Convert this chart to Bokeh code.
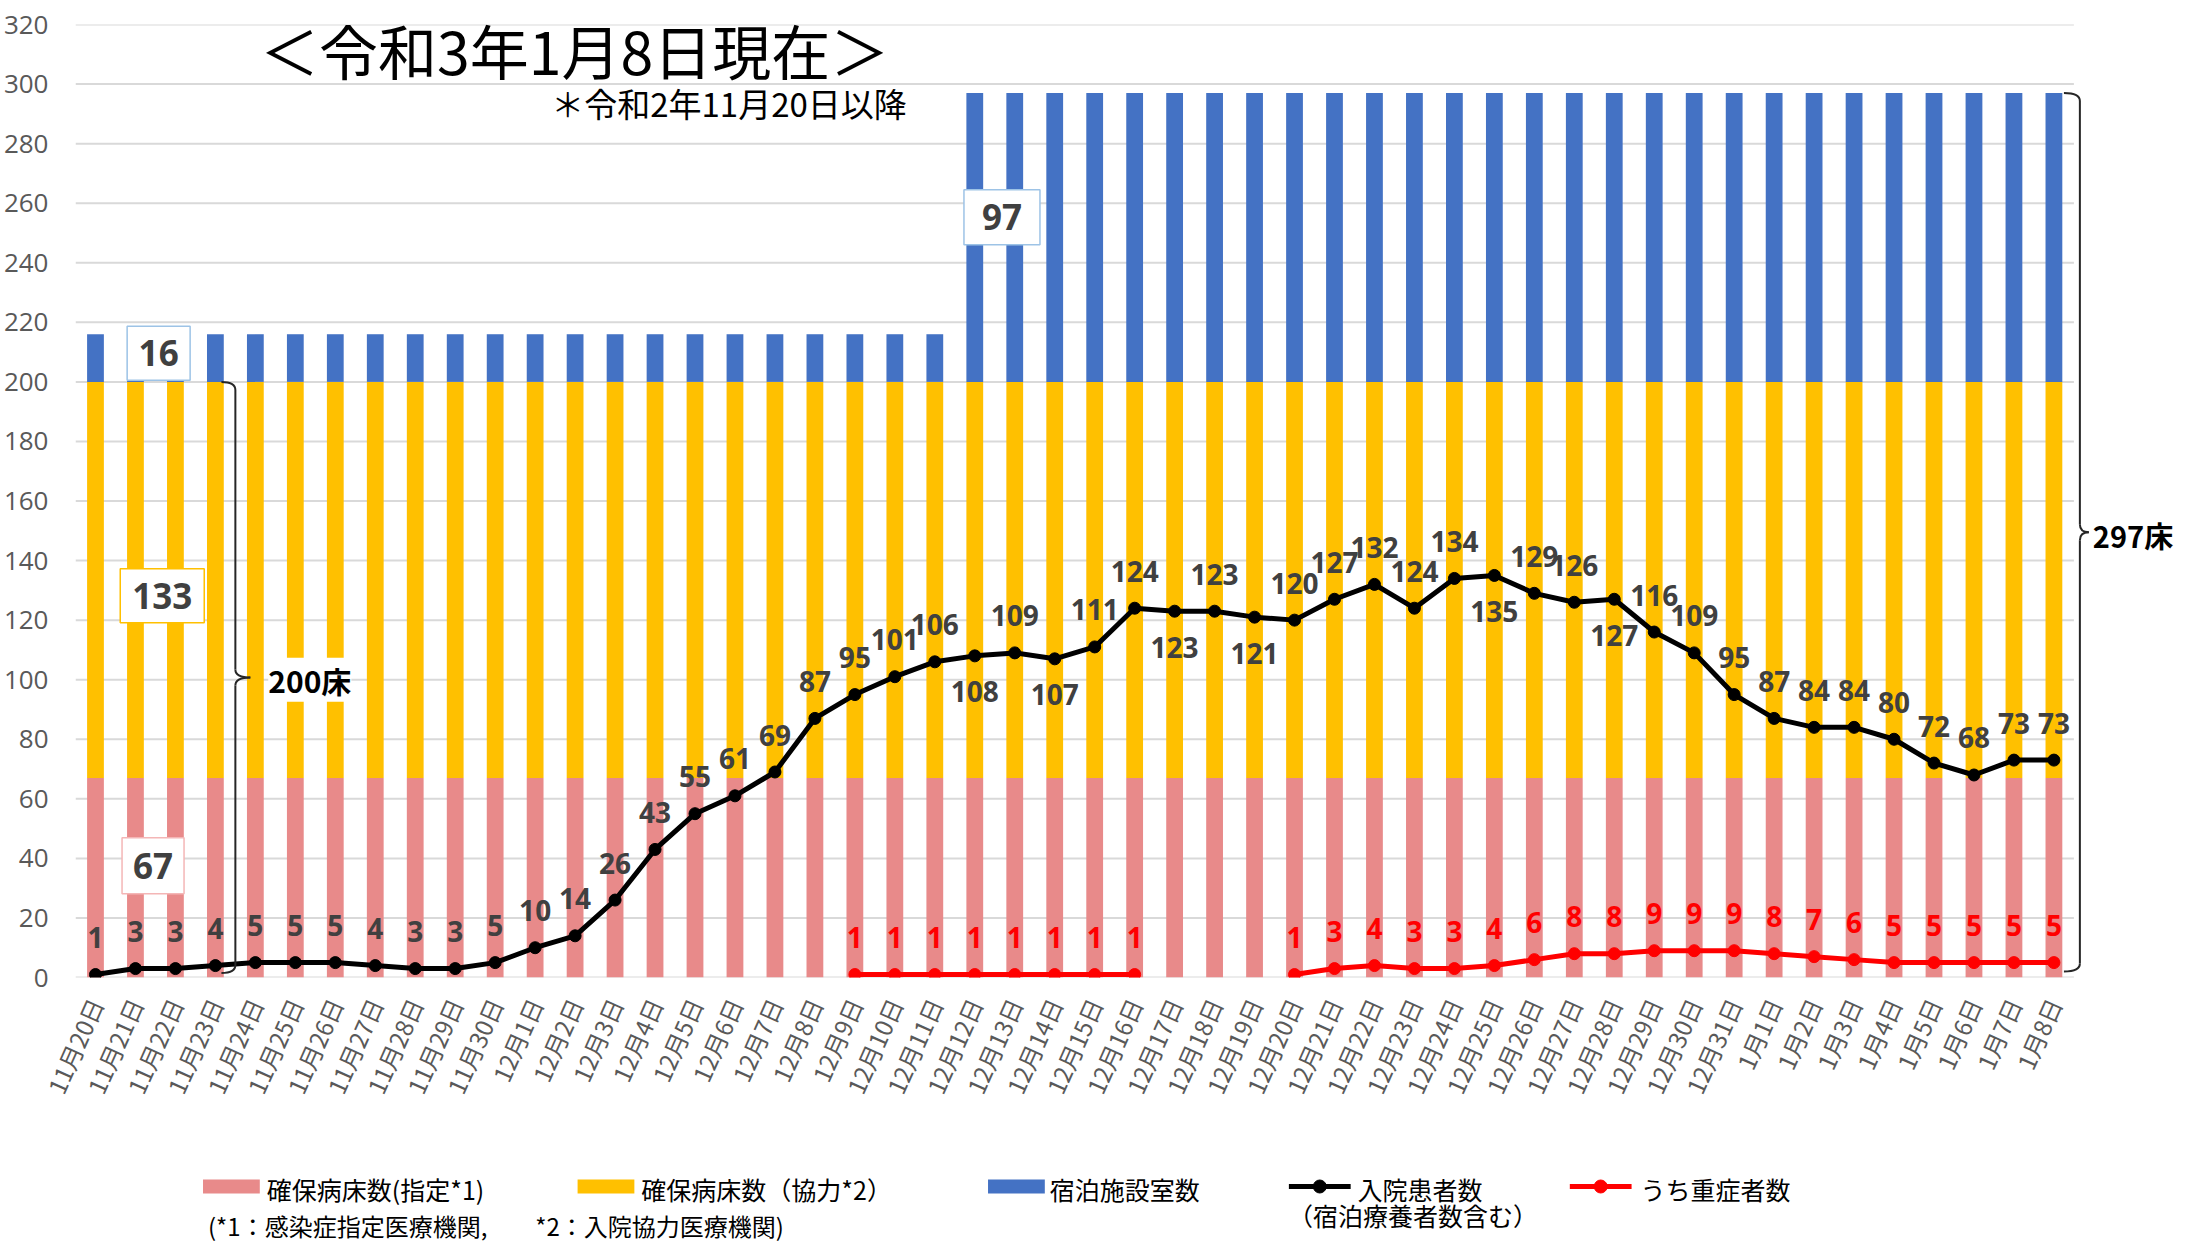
import math
from bokeh.plotting import figure
from bokeh.models import ColumnDataSource, Range1d, FixedTicker, Label
from bokeh.layouts import column
from bokeh.core.properties import value
from bokeh.embed import file_html
from bokeh.resources import INLINE

NAN = float("nan")

# ---------------- data ----------------
DATES = [
    "11月20日", "11月21日", "11月22日", "11月23日", "11月24日", "11月25日",
    "11月26日", "11月27日", "11月28日", "11月29日", "11月30日",
    "12月1日", "12月2日", "12月3日", "12月4日", "12月5日", "12月6日",
    "12月7日", "12月8日", "12月9日", "12月10日", "12月11日", "12月12日",
    "12月13日", "12月14日", "12月15日", "12月16日", "12月17日", "12月18日",
    "12月19日", "12月20日", "12月21日", "12月22日", "12月23日", "12月24日",
    "12月25日", "12月26日", "12月27日", "12月28日", "12月29日", "12月30日",
    "12月31日",
    "1月1日", "1月2日", "1月3日", "1月4日", "1月5日", "1月6日", "1月7日", "1月8日",
]
DESIGNATED_BEDS = [67] * 50          # 確保病床数(指定*1)
COOPERATING_BEDS = [133] * 50        # 確保病床数（協力*2）
HOTEL_ROOMS = [16] * 22 + [97] * 28  # 宿泊施設室数
INPATIENTS = [
    1, 3, 3, 4, 5, 5, 5, 4, 3, 3, 5,
    10, 14, 26, 43, 55, 61, 69, 87, 95, 101, 106, 108, 109, 107, 111, 124,
    123, 123, 121, 120, 127, 132, 124, 134, 135, 129, 126, 127, 116, 109, 95,
    87, 84, 84, 80, 72, 68, 73, 73,
]
SEVERE = (
    [NAN] * 19
    + [1, 1, 1, 1, 1, 1, 1, 1]
    + [NAN, NAN, NAN]
    + [1, 3, 4, 3, 3, 4, 6, 8, 8, 9, 9, 9, 8, 7, 6, 5, 5, 5, 5, 5]
)
Y_TICKS = [0, 20, 40, 60, 80, 100, 120, 140, 160, 180, 200, 220, 240, 260, 280, 300, 320]
BELOW_LABEL_DATES = ["12月12日", "12月14日", "12月17日", "12月19日", "12月25日", "12月28日"]

LEGEND_LABELS = ["確保病床数(指定*1)", "確保病床数（協力*2）", "宿泊施設室数", "入院患者数", "うち重症者数"]
LEGEND_SUBLABEL = "（宿泊療養者数含む）"
TITLE = "＜令和3年1月8日現在＞"
SUBTITLE = "＊令和2年11月20日以降"
FOOTNOTE = "(*1：感染症指定医療機関,　　*2：入院協力医療機関)"

# ---------------- style / layout ----------------
PINK = "#E88A8A"
YELLOW = "#FFC000"
BLUE = "#4472C4"
RED = "#FF0000"
GRID = "#D9D9D9"
LABEL_GRAY = "#404040"
AXIS_GRAY = "#595959"
JP = "Noto Sans CJK JP"

FIG_W = 2178
MAIN_H = 1140
LEG_H = 107
FRAME_LEFT = 67
FRAME_TOP = 24
FRAME_BOTTOM = 977
PX_X = 40.12                       # px per category
PX_Y = (FRAME_BOTTOM - FRAME_TOP) / 320.0
X_END = -0.5 + (FIG_W - FRAME_LEFT) / PX_X

n = len(DATES)
xs = list(range(n))

p = figure(width=FIG_W, height=MAIN_H, title=None,
           x_range=Range1d(-0.5, X_END), y_range=Range1d(0, 320),
           output_backend="svg", toolbar_location=None,
           min_border_left=FRAME_LEFT, min_border_right=0,
           min_border_top=FRAME_TOP, min_border_bottom=MAIN_H - FRAME_BOTTOM)
p.outline_line_color = None
p.grid.visible = False
p.background_fill_color = "white"

# gridlines (only across the bar area)
p.segment(x0=[-0.5] * len(Y_TICKS), x1=[n - 0.5] * len(Y_TICKS), y0=Y_TICKS, y1=Y_TICKS,
          line_color=GRID, line_width=2)

# stacked bars
bars = ColumnDataSource(dict(x=xs, designated=DESIGNATED_BEDS,
                             cooperating=COOPERATING_BEDS, hotel=HOTEL_ROOMS))
p.vbar_stack(["designated", "cooperating", "hotel"], x="x", width=0.42,
             color=[PINK, YELLOW, BLUE], line_width=0, source=bars)

# inpatients line
p.line(xs, INPATIENTS, line_color="black", line_width=5)
p.scatter(xs, INPATIENTS, size=12, color="black")
in_off = [36 if d in BELOW_LABEL_DATES else -37 for d in DATES]
p.text(x=xs, y=INPATIENTS, text=[str(v) for v in INPATIENTS], y_offset=in_off,
       text_align="center", text_baseline="middle", text_font=value("Open Sans"),
       text_font_style="bold", text_font_size="28px", text_color=LABEL_GRAY)

# severe line
p.line(xs, SEVERE, line_color=RED, line_width=5)
p.scatter(xs, SEVERE, size=12, color=RED)
sev_x = [x for x, v in zip(xs, SEVERE) if not math.isnan(v)]
sev_v = [v for v in SEVERE if not math.isnan(v)]
p.text(x=sev_x, y=sev_v, text=[str(int(v)) for v in sev_v], y_offset=-37,
       text_align="center", text_baseline="middle", text_font=value("Open Sans"),
       text_font_style="bold", text_font_size="28px", text_color=RED)

# boxed value call-outs
base200 = DESIGNATED_BEDS[0] + COOPERATING_BEDS[0]
box_x = [1.58, 1.67, 1.44, 22.68]
box_y = [base200 + HOTEL_ROOMS[0] * 0.6,
         DESIGNATED_BEDS[0] + COOPERATING_BEDS[0] * 0.46,
         DESIGNATED_BEDS[0] * 0.56,
         base200 + HOTEL_ROOMS[-1] * 0.57]
box_txt = [str(HOTEL_ROOMS[0]), str(COOPERATING_BEDS[0]), str(DESIGNATED_BEDS[0]), str(HOTEL_ROOMS[-1])]
box_w = [63, 84, 62, 76]
box_h = [54, 54, 56, 55]
box_line = ["#9DC3E6", "#FFC000", "#F4B6B6", "#9DC3E6"]
p.rect(x=box_x, y=box_y, width=box_w, height=box_h, width_units="screen",
       height_units="screen", fill_color="white", line_color=box_line, line_width=1.5)
p.text(x=box_x, y=box_y, text=box_txt, text_align="center", text_baseline="middle",
       text_font=value("Open Sans"), text_font_style="bold", text_font_size="35px",
       text_color=LABEL_GRAY)


def draw_brace(fig, x_hook, x_line, x_tip, y_top, y_bot, ry):
    y_mid = (y_top + y_bot) / 2.0
    kw = dict(line_color="#262626", line_width=2)
    fig.quadratic(x0=[x_hook], y0=[y_top], x1=[x_line], y1=[y_top - ry], cx=[x_line], cy=[y_top], **kw)
    fig.segment(x0=[x_line], y0=[y_top - ry], x1=[x_line], y1=[y_mid + ry], **kw)
    fig.quadratic(x0=[x_line], y0=[y_mid + ry], x1=[x_tip], y1=[y_mid], cx=[x_line], cy=[y_mid], **kw)
    fig.quadratic(x0=[x_tip], y0=[y_mid], x1=[x_line], y1=[y_mid - ry], cx=[x_line], cy=[y_mid], **kw)
    fig.segment(x0=[x_line], y0=[y_mid - ry], x1=[x_line], y1=[y_bot + ry], **kw)
    fig.quadratic(x0=[x_line], y0=[y_bot + ry], x1=[x_hook], y1=[y_bot], cx=[x_line], cy=[y_bot], **kw)


ry = 8 / PX_Y
draw_brace(p, 3.5 - 14 / PX_X, 3.5, 3.5 + 15 / PX_X, base200, 1.5, ry)
total297 = base200 + HOTEL_ROOMS[-1]
x297 = n - 0.5 + 6 / PX_X
draw_brace(p, x297 - 16 / PX_X, x297, x297 + 9 / PX_X, total297, 2, ry)

p.add_layout(Label(x=3.5 + 33 / PX_X, y=base200 / 2.0, text=f"{base200}床",
                   text_font=JP, text_font_style="bold", text_font_size="30px",
                   text_color="black", text_align="left", text_baseline="middle",
                   background_fill_color="white"))
p.add_layout(Label(x=x297 + 13 / PX_X, y=total297 / 2.0, text=f"{total297}床",
                   text_font=JP, text_font_style="bold", text_font_size="29px",
                   text_color="black", text_align="left", text_baseline="middle"))

# title & subtitle
p.add_layout(Label(x=11.99, y=311.5, text=TITLE, text_font=JP, text_font_size="59px",
                   text_color="black", text_align="center", text_baseline="middle"))
p.add_layout(Label(x=15.85, y=293.5, text=SUBTITLE, text_font=JP, text_font_size="33px",
                   text_color="black", text_align="center", text_baseline="middle"))

# axes
p.yaxis.ticker = FixedTicker(ticks=Y_TICKS)
p.yaxis.axis_line_color = None
p.yaxis.major_tick_line_color = None
p.yaxis.minor_tick_line_color = None
p.yaxis.major_label_text_font = "Open Sans"
p.yaxis.major_label_text_font_size = "26px"
p.yaxis.major_label_text_color = AXIS_GRAY
p.yaxis.major_label_standoff = 21

p.xaxis.ticker = FixedTicker(ticks=xs)
p.xaxis.major_label_overrides = {i: d for i, d in enumerate(DATES)}
p.xaxis.axis_line_color = None
p.xaxis.major_tick_line_color = None
p.xaxis.minor_tick_line_color = None
p.xaxis.major_label_orientation = math.radians(66)
p.xaxis.major_label_text_font = JP
p.xaxis.major_label_text_font_size = "24px"
p.xaxis.major_label_text_color = AXIS_GRAY
p.xaxis.major_label_standoff = 16

# ---------------- legend strip ----------------
leg = figure(width=FIG_W, height=LEG_H, title=None,
             x_range=Range1d(FRAME_LEFT, FIG_W), y_range=Range1d(LEG_H, 0),
             output_backend="svg", toolbar_location=None,
             x_axis_location=None, y_axis_location=None,
             min_border_left=FRAME_LEFT, min_border_right=0,
             min_border_top=0, min_border_bottom=0)
leg.outline_line_color = None
leg.grid.visible = False

LEG_X = [195, 571, 983, 1285, 1567]
SW_W = 57
ROW_Y = 46
for i, c in enumerate([PINK, YELLOW, BLUE]):
    leg.quad(left=[LEG_X[i]], right=[LEG_X[i] + SW_W], top=[ROW_Y - 7], bottom=[ROW_Y + 7],
             fill_color=c, line_color=None)
for i, c in [(3, "black"), (4, RED)]:
    leg.segment(x0=[LEG_X[i]], x1=[LEG_X[i] + 62], y0=[ROW_Y], y1=[ROW_Y], line_color=c, line_width=5)
    leg.scatter(x=[LEG_X[i] + 31], y=[ROW_Y], size=13, color=c)
text_x = [LEG_X[0] + 64, LEG_X[1] + 64, LEG_X[2] + 62, LEG_X[3] + 69, LEG_X[4] + 71]
leg.text(x=text_x, y=[ROW_Y + 2] * 5, text=LEGEND_LABELS, text_align="left",
         text_baseline="middle", text_font=value(JP), text_font_size="25px", text_color="black")
leg.text(x=[LEG_X[3] - 1], y=[ROW_Y + 28], text=[LEGEND_SUBLABEL], text_align="left",
         text_baseline="middle", text_font=value(JP), text_font_size="25px", text_color="black")
leg.text(x=[200], y=[85], text=[FOOTNOTE], text_align="left", text_baseline="middle",
         text_font=value(JP), text_font_size="24px", text_color="black")

layout = column(p, leg, spacing=0)
open("out.html", "w").write(file_html(layout, INLINE))
